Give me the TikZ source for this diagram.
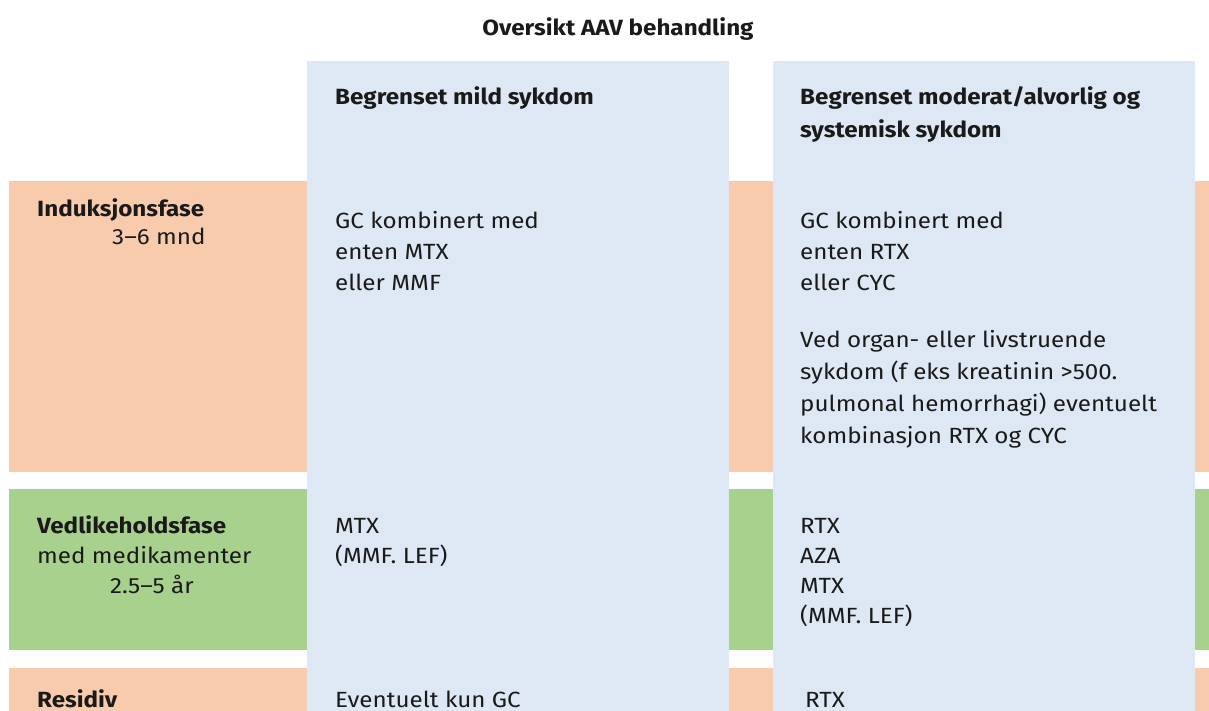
\documentclass[tikz,border=0pt]{standalone}
\usepackage{fontspec}
\setmainfont{Fira Sans}[FakeStretch=1.1]
\definecolor{peach}{HTML}{F8CBAD}
\definecolor{leaf}{HTML}{A9D18E}
\definecolor{sky}{HTML}{DEE8F4}
\definecolor{ink}{HTML}{1A1A1A}
\begin{document}
\begin{tikzpicture}[x=1pt,y=-1pt,
  txt/.style={anchor=base west, inner sep=0pt, align=left, text=ink,
    font=\fontsize{22}{31}\selectfont},
  hd/.style={txt, font=\fontsize{22}{31}\selectfont\bfseries},
]
\useasboundingbox (0,0) rectangle (1209,711);
\fill[white] (0,0) rectangle (1209,711);
% phase bands
\fill[peach] (9,181) rectangle (1209,472);
\fill[leaf]  (9,489) rectangle (1209,650);
\fill[peach] (9,668) rectangle (1209,711);
% columns
\fill[sky] (307,61) rectangle (729,711);
\fill[sky] (773,61) rectangle (1195,711);
% title
\node[anchor=base, inner sep=0pt, text=ink, font=\fontsize{22}{24}\selectfont\bfseries] (title) at (618,36) {Oversikt AAV behandling};
% column headers
\node[hd] (h1) at (335,105) {Begrenset mild sykdom};
\node[hd, font=\fontsize{22}{33}\selectfont\bfseries] (h2) at (800,138) {Begrenset moderat/alvorlig og\\systemisk sykdom};
% row labels
\node[hd] (r1) at (37,217) {Induksjonsfase};
\node[txt] (r1b) at (112,244) {3–6 mnd};
\node[hd] (r2) at (37,533) {Vedlikeholdsfase};
\node[txt] (r2b) at (37,563) {med medikamenter};
\node[txt] (r2c) at (110,593) {2.5–5 år};
\node[hd] (r3) at (37,707) {Residiv};
% induction (base anchor = last line)
\node[txt] (i1) at (335,290) {GC kombinert med\\enten MTX\\eller MMF};
\node[txt] (i2) at (800,290) {GC kombinert med\\enten RTX\\eller CYC};
\node[txt, font=\fontsize{22}{32}\selectfont] (i3) at (800,443) {Ved organ- eller livstruende\\sykdom (f eks kreatinin >500.\\pulmonal hemorrhagi) eventuelt\\kombinasjon RTX og CYC};
% maintenance
\node[txt, font=\fontsize{22}{30}\selectfont] (m1) at (335,563) {MTX\\(MMF. LEF)};
\node[txt, font=\fontsize{22}{30}\selectfont] (m2) at (800,623) {RTX\\AZA\\MTX\\(MMF. LEF)};
% relapse
\node[txt] (s1) at (335,707) {Eventuelt kun GC};
\node[txt] (s2) at (805,707) {RTX};
\end{tikzpicture}
\end{document}
